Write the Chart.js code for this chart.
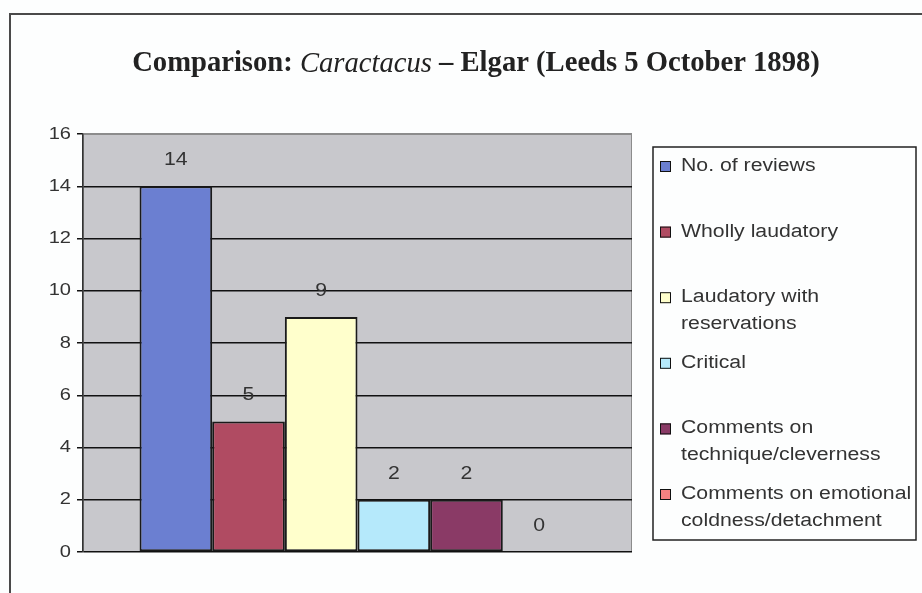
<!DOCTYPE html>
<html>
<head>
<meta charset="utf-8">
<script src="https://cdn.jsdelivr.net/npm/chart.js@4.4.1/dist/chart.umd.min.js"></script>
<style>
html,body{margin:0;padding:0;background:#fdfefe;}
#wrap{position:relative;width:922px;height:593px;}
</style>
</head>
<body>
<div id="wrap"><canvas id="c" width="922" height="593"></canvas></div>
<script>
// ---- data ----
const categories = [''];
const seriesNames = ['No. of reviews', 'Wholly laudatory', 'Laudatory with reservations', 'Critical', 'Comments on technique/cleverness', 'Comments on emotional coldness/detachment'];
const seriesValues = [14, 5, 9, 2, 2, 0];
const seriesColors = ['#6b7fd1', '#b04b62', '#ffffcc', '#b5e9fb', '#8a3a66', '#f58080'];
const yTicks = [0, 2, 4, 6, 8, 10, 12, 14, 16];
const titleParts = [
  {text: 'Comparison: ', style: 'bold'},
  {text: 'Caractacus', style: 'italic'},
  {text: ' \u2013 Elgar (Leeds 5 October 1898)', style: 'bold'}
];

const SANS = '"Liberation Sans", Arial, sans-serif';
const SERIF = '"Liberation Serif", "Times New Roman", serif';
const STRETCH = 1.18;   // horizontal stretch of scanned text
const TEXT = '#333';

function drawStretched(ctx, txt, x, y, align, stretch) {
  const w = ctx.measureText(txt).width * stretch;
  let x0 = x;
  if (align === 'center') x0 = x - w / 2;
  else if (align === 'right') x0 = x - w;
  ctx.save();
  ctx.translate(x0, y);
  ctx.scale(stretch, 1);
  ctx.textAlign = 'left';
  ctx.fillText(txt, 0, 0);
  ctx.restore();
  return w;
}

function wrap(ctx, txt, maxW, stretch) {
  const words = txt.split(' ');
  const lines = [];
  let cur = '';
  for (const w of words) {
    const t = cur ? cur + ' ' + w : w;
    if (ctx.measureText(t).width * stretch > maxW && cur) { lines.push(cur); cur = w; }
    else cur = t;
  }
  if (cur) lines.push(cur);
  return lines;
}

const decor = {
  id: 'decor',
  beforeDraw(chart) {
    const ctx = chart.ctx, a = chart.chartArea;
    ctx.save();
    ctx.fillStyle = '#fdfefe';
    ctx.fillRect(0, 0, chart.width, chart.height);
    // outer frame
    ctx.strokeStyle = '#4a4a4a';
    ctx.lineWidth = 2;
    ctx.beginPath();
    ctx.moveTo(10, chart.height + 2);
    ctx.lineTo(10, 14);
    ctx.lineTo(chart.width + 2, 14);
    ctx.stroke();
    // plot background
    ctx.fillStyle = '#c8c8cc';
    ctx.fillRect(a.left, a.top, a.right - a.left, a.bottom - a.top);
    ctx.strokeStyle = '#8c8c8c';
    ctx.lineWidth = 1;
    ctx.strokeRect(a.left + 0.5, a.top + 0.5, a.right - a.left - 1, a.bottom - a.top - 1);
    ctx.restore();
  },
  afterDatasetsDraw(chart) {
    const ctx = chart.ctx;
    ctx.save();
    ctx.fillStyle = TEXT;
    ctx.font = '18px ' + SANS;
    ctx.textBaseline = 'middle';
    chart.data.datasets.forEach((ds, i) => {
      const el = chart.getDatasetMeta(i).data[0];
      drawStretched(ctx, String(ds.data[0]), el.x, el.y - 26, 'center', STRETCH);
    });
    // y tick labels
    ctx.font = '17px ' + SANS;
    const ys = chart.scales.y;
    ys.ticks.forEach(t => {
      drawStretched(ctx, String(t.value), ys.right - 12, ys.getPixelForValue(t.value), 'right', STRETCH);
    });
    ctx.restore();
  },
  afterDraw(chart) {
    const ctx = chart.ctx;
    ctx.save();
    // title
    const fonts = {bold: 'bold 29px ' + SERIF, italic: 'italic 29px ' + SERIF};
    let total = 0;
    titleParts.forEach(p => { ctx.font = fonts[p.style]; total += ctx.measureText(p.text).width; });
    const tStretch = 0.987;
    let x = 476 - total * tStretch / 2;
    ctx.fillStyle = '#222';
    ctx.textBaseline = 'middle';
    titleParts.forEach(p => { ctx.font = fonts[p.style]; x += drawStretched(ctx, p.text, x, 64, 'left', tStretch); });

    // legend box
    const L = {left: 653, top: 147, right: 916, bottom: 540};
    ctx.fillStyle = '#fdfefe';
    ctx.fillRect(L.left, L.top, L.right - L.left, L.bottom - L.top);
    ctx.strokeStyle = '#222';
    ctx.lineWidth = 1.5;
    ctx.strokeRect(L.left, L.top, L.right - L.left, L.bottom - L.top);
    ctx.font = '18px ' + SANS;
    ctx.textBaseline = 'middle';
    const step = 65.6;
    chart.data.datasets.forEach((ds, i) => {
      const y0 = 166 + i * step;
      ctx.fillStyle = ds.backgroundColor;
      ctx.fillRect(660, y0 - 5, 11, 11);
      ctx.strokeStyle = '#111';
      ctx.lineWidth = 1;
      ctx.strokeRect(660.5, y0 - 4.5, 10, 10);
      ctx.fillStyle = TEXT;
      const lines = wrap(ctx, ds.label, 240, STRETCH);
      lines.forEach((ln, k) => drawStretched(ctx, ln, 681, y0 + k * 27, 'left', STRETCH));
    });
    ctx.restore();
  }
};

new Chart(document.getElementById('c'), {
  type: 'bar',
  data: {
    labels: categories,
    datasets: seriesNames.map((n, i) => ({
      label: n,
      data: [seriesValues[i]],
      backgroundColor: seriesColors[i],
      borderColor: '#1a1a1a',
      borderWidth: 2,
      borderSkipped: false,
      categoryPercentage: 0.794,
      barPercentage: 1.0
    }))
  },
  options: {
    responsive: false,
    animation: false,
    events: [],
    layout: {padding: {left: 0, top: 134, right: 290, bottom: 41}},
    plugins: {legend: {display: false}, title: {display: false}, tooltip: {enabled: false}},
    scales: {
      x: {display: false},
      y: {
        min: 0, max: 16,
        afterFit(s) { s.width = 83; },
        afterBuildTicks(s) { s.ticks = yTicks.map(v => ({value: v})); },
        ticks: {display: false, stepSize: 2},
        grid: {
          color: ctx => (ctx.tick && ctx.tick.value === 16) ? '#8c8c8c' : '#111',
          tickColor: '#111',
          lineWidth: 1.5,
          tickLength: 6,
          drawTicks: true
        },
        border: {display: true, color: '#333', width: 1.5}
      }
    }
  },
  plugins: [decor]
});
</script>
</body>
</html>
